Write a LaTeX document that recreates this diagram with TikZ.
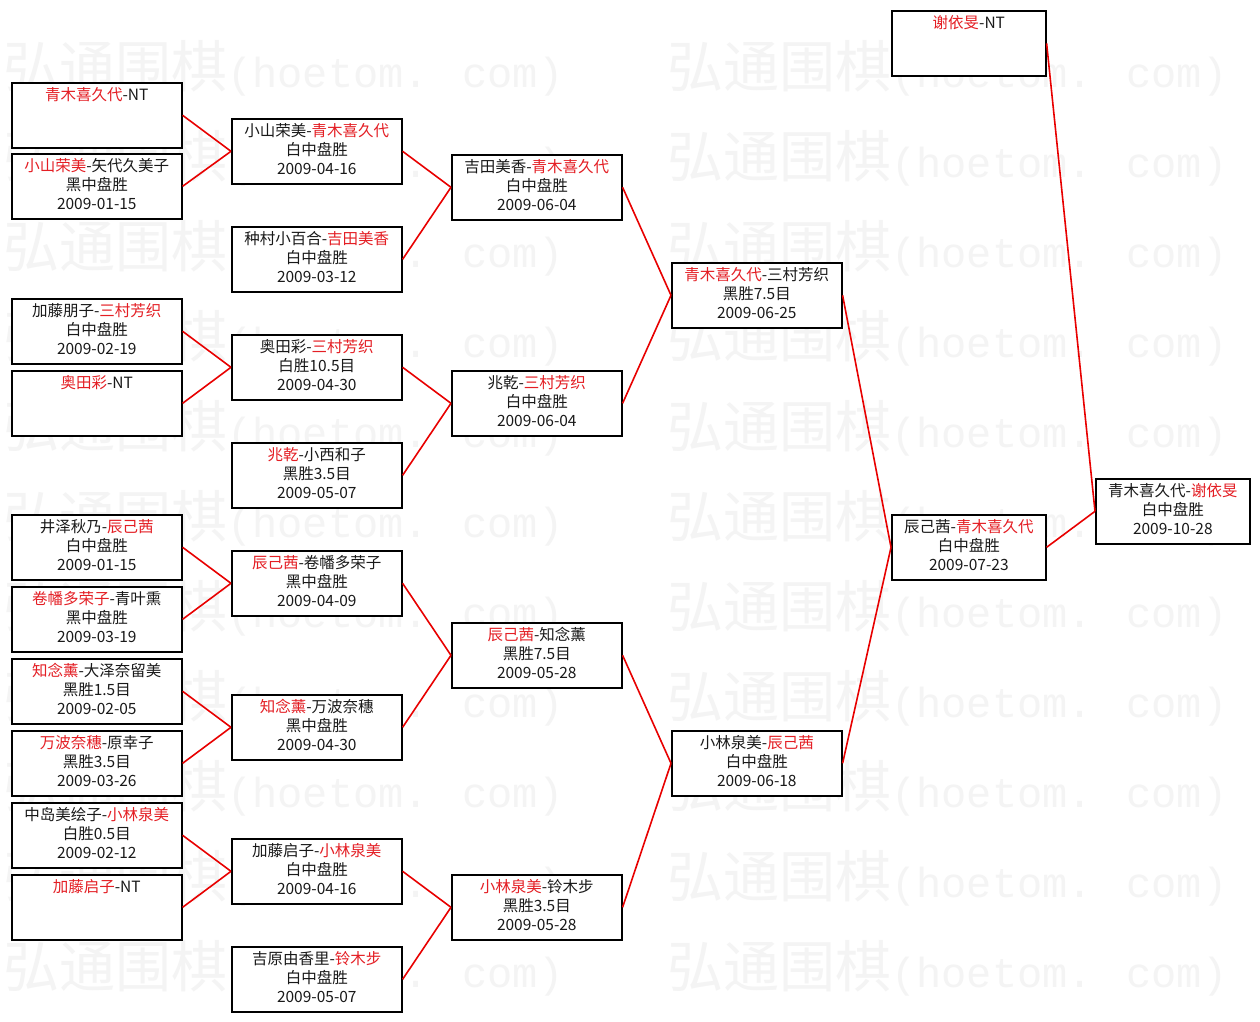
\documentclass[tikz,border=0pt]{standalone}
\usepackage{fontspec}
\setmainfont{Noto Sans CJK SC}
\newfontfamily\wmmono[Scale=0.75]{Liberation Mono}
\definecolor{win}{RGB}{228,30,36}
\definecolor{linkred}{RGB}{232,0,0}
\definecolor{wmgray}{RGB}{244,244,244}
\newcommand{\W}[1]{\textcolor{win}{#1}}
\newcommand{\tri}[3]{\strut#1\\\strut#2\\\strut#3}
\newcommand{\nt}[1]{\strut#1\\\strut\\\strut}
\begin{document}
\begin{tikzpicture}[x=1pt,y=-1pt,
  box/.style={draw=black,line width=1.6pt,fill=white,anchor=north west,
    minimum height=65pt,minimum width=170pt,inner sep=0pt,align=center,
    font=\fontsize{15.5}{19}\selectfont,text=black!90},
  narrow/.style={minimum width=154pt},
  link/.style={draw=linkred,line width=1.6pt},
  wm/.style={anchor=west,inner sep=0pt,text=wmgray,font=\fontsize{56}{56}\selectfont}]
\useasboundingbox (0,0) rectangle (1260,1021);
\fill[white] (0,0) rectangle (1260,1021);
% watermark
\begin{scope}
\clip (0,0) rectangle (1260,1021);
\foreach \r in {0,...,10}{
  \foreach \c in {0,1}{
    \node[wm] (wm-\r-\c) at (3+664*\c,68+90*\r) {弘通围棋{\wmmono(hoetom. com)}};
  }
}
\end{scope}
% column 1
\node[box] (a1) at (11,82)  {\nt{\W{青木喜久代}-NT}};
\node[box] (a2) at (11,153) {\tri{\W{小山荣美}-矢代久美子}{黑中盘胜}{2009-01-15}};
\node[box] (a3) at (11,298) {\tri{加藤朋子-\W{三村芳织}}{白中盘胜}{2009-02-19}};
\node[box] (a4) at (11,370) {\nt{\W{奥田彩}-NT}};
\node[box] (a5) at (11,514) {\tri{井泽秋乃-\W{辰己茜}}{白中盘胜}{2009-01-15}};
\node[box] (a6) at (11,586) {\tri{\W{卷幡多荣子}-青叶熏}{黑中盘胜}{2009-03-19}};
\node[box] (a7) at (11,658) {\tri{\W{知念薰}-大泽奈留美}{黑胜1.5目}{2009-02-05}};
\node[box] (a8) at (11,730) {\tri{\W{万波奈穗}-原幸子}{黑胜3.5目}{2009-03-26}};
\node[box] (a9) at (11,802) {\tri{中岛美绘子-\W{小林泉美}}{白胜0.5目}{2009-02-12}};
\node[box] (a10) at (11,874) {\nt{\W{加藤启子}-NT}};
% column 2
\node[box] (b1) at (231,118) {\tri{小山荣美-\W{青木喜久代}}{白中盘胜}{2009-04-16}};
\node[box] (b2) at (231,226) {\tri{种村小百合-\W{吉田美香}}{白中盘胜}{2009-03-12}};
\node[box] (b3) at (231,334) {\tri{奥田彩-\W{三村芳织}}{白胜10.5目}{2009-04-30}};
\node[box] (b4) at (231,442) {\tri{\W{兆乾}-小西和子}{黑胜3.5目}{2009-05-07}};
\node[box] (b5) at (231,550) {\tri{\W{辰己茜}-卷幡多荣子}{黑中盘胜}{2009-04-09}};
\node[box] (b6) at (231,694) {\tri{\W{知念薰}-万波奈穗}{黑中盘胜}{2009-04-30}};
\node[box] (b7) at (231,838) {\tri{加藤启子-\W{小林泉美}}{白中盘胜}{2009-04-16}};
\node[box] (b8) at (231,946) {\tri{吉原由香里-\W{铃木步}}{白中盘胜}{2009-05-07}};
% column 3
\node[box] (c1) at (451,154) {\tri{吉田美香-\W{青木喜久代}}{白中盘胜}{2009-06-04}};
\node[box] (c2) at (451,370) {\tri{兆乾-\W{三村芳织}}{白中盘胜}{2009-06-04}};
\node[box] (c3) at (451,622) {\tri{\W{辰己茜}-知念薰}{黑胜7.5目}{2009-05-28}};
\node[box] (c4) at (451,874) {\tri{\W{小林泉美}-铃木步}{黑胜3.5目}{2009-05-28}};
% column 4
\node[box] (d1) at (671,262) {\tri{\W{青木喜久代}-三村芳织}{黑胜7.5目}{2009-06-25}};
\node[box] (d2) at (671,730) {\tri{小林泉美-\W{辰己茜}}{白中盘胜}{2009-06-18}};
% column 5
\node[box,narrow] (e1) at (891,10)  {\nt{\W{谢依旻}-NT}};
\node[box,narrow] (e2) at (891,514) {\tri{辰己茜-\W{青木喜久代}}{白中盘胜}{2009-07-23}};
% column 6
\node[box,narrow] (f1) at (1095,478) {\tri{青木喜久代-\W{谢依旻}}{白中盘胜}{2009-10-28}};
% connectors
\draw[link] (a1.east) -- (b1.west);
\draw[link] (a2.east) -- (b1.west);
\draw[link] (a3.east) -- (b3.west);
\draw[link] (a4.east) -- (b3.west);
\draw[link] (a5.east) -- (b5.west);
\draw[link] (a6.east) -- (b5.west);
\draw[link] (a7.east) -- (b6.west);
\draw[link] (a8.east) -- (b6.west);
\draw[link] (a9.east) -- (b7.west);
\draw[link] (a10.east) -- (b7.west);
\draw[link] (b1.east) -- (c1.west);
\draw[link] (b2.east) -- (c1.west);
\draw[link] (b3.east) -- (c2.west);
\draw[link] (b4.east) -- (c2.west);
\draw[link] (b5.east) -- (c3.west);
\draw[link] (b6.east) -- (c3.west);
\draw[link] (b7.east) -- (c4.west);
\draw[link] (b8.east) -- (c4.west);
\draw[link] (c1.east) -- (d1.west);
\draw[link] (c2.east) -- (d1.west);
\draw[link] (c3.east) -- (d2.west);
\draw[link] (c4.east) -- (d2.west);
\draw[link] (d1.east) -- (e2.west);
\draw[link] (d2.east) -- (e2.west);
\draw[link] (e1.east) -- (f1.west);
\draw[link] (e2.east) -- (f1.west);
\end{tikzpicture}
\end{document}
